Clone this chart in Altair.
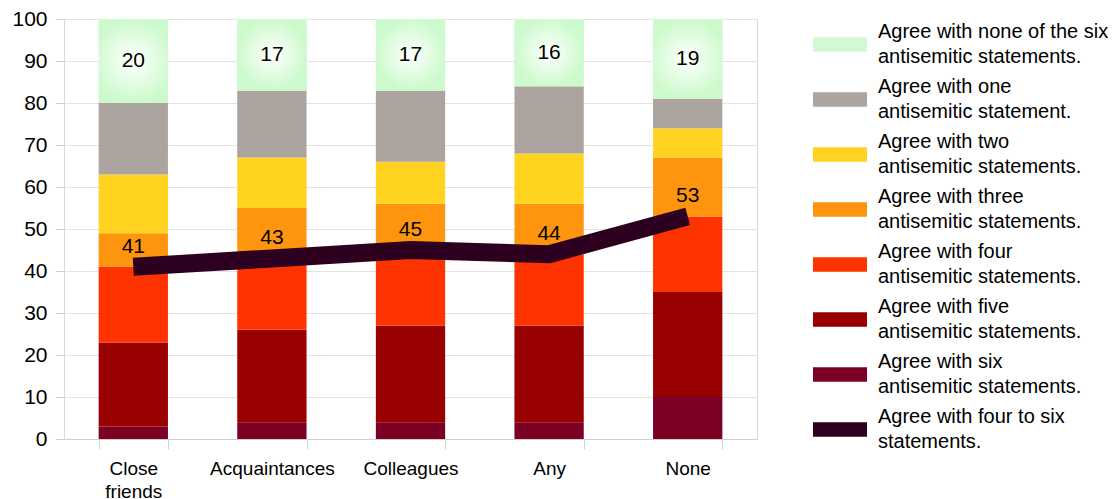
import altair as alt
import pandas as pd

categories = ["Close friends", "Acquaintances", "Colleagues", "Any", "None"]

series_names = [
    "Agree with none of the six|antisemitic statements.",
    "Agree with one|antisemitic statement.",
    "Agree with two|antisemitic statements.",
    "Agree with three|antisemitic statements.",
    "Agree with four|antisemitic statements.",
    "Agree with five|antisemitic statements.",
    "Agree with six|antisemitic statements.",
]
line_name = "Agree with four to six|statements."
colors = ["#d2fad2", "#aca59f", "#ffd320", "#ff950e", "#ff3300", "#990000", "#7b0024", "#2c001e"]

none_vals = [20, 17, 17, 16, 19]
one_vals = [17, 16, 17, 16, 7]
two_vals = [14, 12, 10, 12, 7]
three_vals = [8, 12, 11, 12, 14]
four_vals = [18, 17, 18, 17, 18]
five_vals = [20, 22, 23, 23, 25]
six_vals = [3, 4, 4, 4, 10]
four_to_six = [41, 43, 45, 44, 53]

# stacking order bottom -> top
stack = [
    (series_names[6], six_vals),
    (series_names[5], five_vals),
    (series_names[4], four_vals),
    (series_names[3], three_vals),
    (series_names[2], two_vals),
    (series_names[1], one_vals),
    (series_names[0], none_vals),
]
rows = []
for i, cat in enumerate(categories):
    base = 0
    for name, vals in stack:
        v = vals[i]
        rows.append({"cat": cat, "series": name, "value": v, "y0": base, "y1": base + v,
                     "mid": base + v / 2})
        base += v
bars_df = pd.DataFrame(rows)
line_df = pd.DataFrame({"cat": categories, "value": four_to_six})

x_enc = alt.X("cat:N", sort=categories,
              scale=alt.Scale(paddingInner=0.5, paddingOuter=0.25),
              axis=alt.Axis(title=None, labelAngle=0, labelFontSize=19, labelColor="black",
                            labelExpr="split(datum.label, ' ')", tickBand="extent",
                            tickSize=10, tickColor="#d0d0d0", domainColor="#d0d0d0",
                            labelPadding=10, labelLineHeight=23, grid=False))

y_scale = alt.Scale(domain=[0, 100], nice=False)

bars = alt.Chart(bars_df).mark_bar(strokeWidth=0).encode(
    x=x_enc,
    y=alt.Y("y0:Q", scale=y_scale,
            axis=alt.Axis(title=None, values=list(range(0, 101, 10)), labelFontSize=21,
                          labelColor="black", tickSize=9, tickColor="#d0d0d0", domain=False,
                          gridColor="#e3e3e3", labelPadding=8)),
    y2="y1:Q",
    color=alt.Color("series:N",
                    scale=alt.Scale(domain=series_names + [line_name], range=colors),
                    legend=alt.Legend(title=None, orient="none", legendX=756, legendY=-7,
                                      padding=0,
                                      symbolType="M-1.35,0.26H1.35V0.99H-1.35Z", symbolSize=1600,
                                      symbolStrokeWidth=0, symbolOpacity=1,
                                      labelExpr="split(datum.label, '|')", labelFontSize=20,
                                      labelColor="black", labelLimit=0, labelOffset=18,
                                      rowPadding=0)),
)

gradient = {
    "gradient": "radial",
    "stops": [
        {"color": "#ffffff", "offset": 0},
        {"color": "#ccfacc", "offset": 1},
    ],
}
glow = alt.Chart(bars_df).transform_filter(
    alt.datum.series == series_names[0]
).mark_bar(fill=gradient, strokeWidth=0).encode(
    x=alt.X("cat:N", sort=categories),
    y=alt.Y("y0:Q", scale=y_scale),
    y2="y1:Q",
)

top_text = alt.Chart(bars_df).transform_filter(
    alt.datum.series == series_names[0]
).mark_text(fontSize=21, color="black").encode(
    x=alt.X("cat:N", sort=categories),
    y=alt.Y("mid:Q", scale=y_scale),
    text="value:Q",
)

line = alt.Chart(line_df).mark_line(color=colors[7], strokeWidth=18, strokeCap="butt").encode(
    x=alt.X("cat:N", sort=categories),
    y=alt.Y("value:Q", scale=y_scale),
)

line_text = alt.Chart(line_df).mark_text(fontSize=21, color="black", dy=-20).encode(
    x=alt.X("cat:N", sort=categories),
    y=alt.Y("value:Q", scale=y_scale),
    text="value:Q",
)

chart = alt.layer(bars, glow, top_text, line, line_text).properties(
    width=693, height=420,
    autosize=alt.AutoSizeParams(type="none"),
    padding={"left": 64, "top": 19, "right": 358, "bottom": 60},
).configure(
    font="Liberation Sans",
    style={"guide-label": {"lineHeight": 25}},
).configure_view(stroke="#d9d9d9")

chart.save("out.html", embed_options={"renderer": "svg", "actions": False})
